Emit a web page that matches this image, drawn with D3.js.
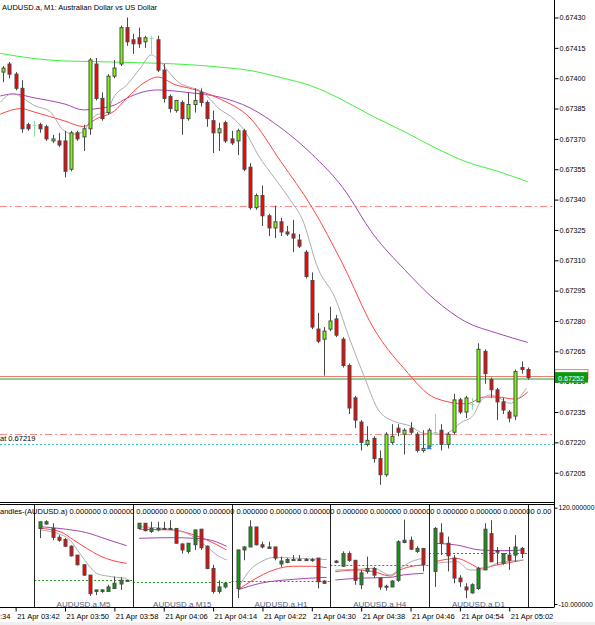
<!DOCTYPE html>
<html>
<head>
<meta charset="utf-8">
<script src="https://cdnjs.cloudflare.com/ajax/libs/d3/7.8.5/d3.min.js"></script>
<style>
  body { margin: 0; background: #fff; }
  text { font-family: "Liberation Sans", Arial, sans-serif; font-size: 7.5px; fill: #000; }
</style>
</head>
<body>
<div id="wrapper"></div>
<script>
// M1 bars, 21 Apr 03:40 .. 05:05
const openP = [0.67403,0.67407,0.67402,0.67395,0.67377,0.67377,0.67377,0.67376,0.67369,0.67369,
  0.67369,0.67355,0.67373,0.67371,0.67375,0.67407,0.67390,0.67383,0.67401,0.67407,
  0.67425,0.67419,0.67420,0.67418,0.67420,0.67419,0.67404,0.67391,0.67384,0.67388,
  0.67380,0.67387,0.67393,0.67388,0.67379,0.67373,0.67378,0.67370,0.67369,0.67374,
  0.67356,0.67336,0.67342,0.67332,0.67326,0.67329,0.67324,0.67323,0.67320,0.67314,
  0.67300,0.67276,0.67271,0.67276,0.67281,0.67271,0.67258,0.67242,0.67230,0.67219,
  0.67222,0.67212,0.67204,0.67220,0.67227,0.67224,0.67227,0.67224,0.67216,0.67218,
  0.67225,0.67226,0.67219,0.67225,0.67241,0.67235,0.67239,0.67240,0.67265,0.67251,
  0.67246,0.67240,0.67235,0.67233,0.67257,0.67256];
const highP = [0.67406,0.67408,0.67403,0.67399,0.67378,0.67379,0.67378,0.67377,0.67372,0.67373,
  0.67374,0.67374,0.67374,0.67377,0.67410,0.67410,0.67393,0.67402,0.67409,0.67426,
  0.67430,0.67422,0.67425,0.67421,0.67421,0.67421,0.67407,0.67392,0.67389,0.67389,
  0.67393,0.67395,0.67395,0.67389,0.67384,0.67378,0.67379,0.67374,0.67375,0.67375,
  0.67358,0.67343,0.67347,0.67333,0.67337,0.67331,0.67327,0.67330,0.67323,0.67315,
  0.67304,0.67284,0.67277,0.67287,0.67283,0.67272,0.67259,0.67243,0.67231,0.67228,
  0.67223,0.67216,0.67225,0.67229,0.67229,0.67227,0.67230,0.67225,0.67226,0.67227,
  0.67234,0.67229,0.67225,0.67244,0.67242,0.67243,0.67242,0.67269,0.67266,0.67252,
  0.67247,0.67242,0.67236,0.67256,0.67260,0.67257];
const lowP = [0.67398,0.67400,0.67394,0.67373,0.67374,0.67371,0.67373,0.67369,0.67368,0.67366,
  0.67351,0.67354,0.67369,0.67364,0.67372,0.67389,0.67379,0.67382,0.67400,0.67406,
  0.67416,0.67412,0.67415,0.67415,0.67412,0.67403,0.67388,0.67383,0.67383,0.67372,
  0.67379,0.67383,0.67386,0.67376,0.67363,0.67364,0.67368,0.67367,0.67362,0.67354,
  0.67335,0.67335,0.67327,0.67322,0.67321,0.67322,0.67322,0.67314,0.67316,0.67301,
  0.67276,0.67269,0.67253,0.67275,0.67272,0.67257,0.67234,0.67227,0.67216,0.67218,
  0.67210,0.67199,0.67203,0.67219,0.67223,0.67214,0.67224,0.67215,0.67215,0.67217,
  0.67224,0.67216,0.67217,0.67224,0.67234,0.67232,0.67236,0.67240,0.67249,0.67242,
  0.67231,0.67234,0.67230,0.67231,0.67254,0.67251];
const closeP = [0.67405,0.67402,0.67395,0.67375,0.67375,0.67377,0.67375,0.67370,0.67370,0.67367,
  0.67354,0.67373,0.67370,0.67375,0.67409,0.67390,0.67380,0.67401,0.67405,0.67425,
  0.67418,0.67417,0.67417,0.67420,0.67420,0.67404,0.67390,0.67385,0.67389,0.67380,
  0.67387,0.67389,0.67388,0.67380,0.67373,0.67375,0.67369,0.67368,0.67374,0.67355,
  0.67336,0.67342,0.67332,0.67326,0.67329,0.67324,0.67323,0.67321,0.67317,0.67302,
  0.67277,0.67270,0.67275,0.67280,0.67273,0.67258,0.67237,0.67231,0.67220,0.67221,
  0.67212,0.67204,0.67224,0.67223,0.67225,0.67226,0.67225,0.67216,0.67217,0.67226,
  0.67225,0.67219,0.67224,0.67241,0.67235,0.67242,0.67239,0.67266,0.67254,0.67246,
  0.67240,0.67236,0.67232,0.67255,0.67256,0.67252];

// moving averages: [bar, price]
const maFast = [[-0.5,0.673881],[1.6,0.673925],[3.2,0.673901],[4.9,0.673867],[7.6,0.673834],[9.7,0.673744],
  [11.4,0.673723],[13,0.673736],[14,0.673785],[15.1,0.673818],[16.8,0.673831],[17.8,0.673901],[20,0.673966],
  [22.2,0.674049],[24,0.674115],[25.4,0.674082],[27,0.674024],[28.6,0.673975],[30,0.673958],[32.2,0.673933],
  [34.9,0.673851],[37.6,0.673793],[39.2,0.673736],[41.3,0.673620],[44,0.673505],[46.7,0.673390],[48.4,0.673307],
  [51,0.673060],[53.8,0.672912],[55.9,0.672731],[58.4,0.672533],[61,0.672351],[63.8,0.672299],[65.9,0.672282],
  [68.1,0.672245],[71.3,0.672240],[72.4,0.672253],[74,0.672294],[76.2,0.672335],[77.3,0.672401],[78.9,0.672434],
  [80.5,0.672418],[82.1,0.672393],[84.8,0.672467]];
const maMid = [[-0.5,0.673822],[2.9,0.673850],[5,0.673833],[10,0.673788],[13,0.673761],[15,0.673798],[18,0.673838],
  [20,0.673901],[23,0.673981],[25,0.674006],[28,0.673966],[30,0.673952],[35,0.673899],[40,0.673803],[45,0.673587],
  [50,0.673363],[55,0.673082],[60,0.672765],[65,0.672563],[70,0.672419],[75,0.672390],[78,0.672424],[80,0.672424],
  [83,0.672414],[85,0.672449]];
const maSlow = [[-0.5,0.673912],[1.6,0.673922],[5,0.673903],[10,0.673872],[13,0.673843],[15,0.673849],[18,0.673867],
  [20,0.673901],[25,0.673942],[30,0.673929],[35,0.673907],[40,0.673853],[45,0.673754],[50,0.673625],[55,0.673460],
  [60,0.673227],[65,0.673055],[70,0.672904],[75,0.672795],[80,0.672740],[85,0.672694]];
const maLong = [[-0.5,0.674123],[5,0.674097],[10,0.674085],[15,0.674082],[20,0.674078],[25,0.674074],[30,0.674067],
  [35,0.674055],[40,0.674038],[45,0.674003],[50,0.673961],[55,0.673892],[60,0.673810],[65,0.673736],[70,0.673656],
  [75,0.673587],[80,0.673541],[85,0.673488]];

const priceTicks = [0.67205,0.67220,0.67235,0.67250,0.67265,0.67280,0.67295,0.67310,0.67325,0.67340,0.67355,0.67370,0.67385,0.67400,0.67415,0.67430];
const timeBars = [-6,2,10,18,26,34,42,50,58,66,74,82];
const timeLabels = ["21 Apr 03:34","21 Apr 03:42","21 Apr 03:50","21 Apr 03:58","21 Apr 04:06","21 Apr 04:14",
  "21 Apr 04:22","21 Apr 04:30","21 Apr 04:38","21 Apr 04:46","21 Apr 04:54","21 Apr 05:02"];

const bidPrice = 0.67252;
const askPrice = 0.67253;
const levelLines = [0.67337, 0.67224];
const limitPrice = 0.67219;

// sub window: multi timeframe candles, scale -10..120
const subNames = ["M5","M15","H1","H4","D1"];
const subStart = [5,21,37,53,69];
const subCandles = [
  [[92,101,79,101],[98,103,97,101],[92,99,76,80],[80,83,74,76],[77,79,67,68],[68,69,54,55],[56,56,42,43],[43,43,28,29],
   [29,29,1,4],[7,9,2,9],[7,10,5,9],[7,16,7,13],[11,27,10,18],[17,26,9,22],[22,23,21,22]],
  [[92,99,91,99],[99,99,88,89],[88,101,86,92],[90,101,88,92],[91,101,90,92],[91,103,90,92],[92,92,72,72],[71,72,58,63],
   [61,72,58,72],[70,90,63,90],[91,91,63,66],[68,69,37,38],[38,43,4,7],[7,22,4,13],[13,20,11,18]],
  [[11,63,-2,63],[63,68,49,67],[67,103,67,94],[94,94,69,70],[70,74,65,67],[67,74,65,65],[67,67,49,52],[44,54,40,48],
   [46,52,45,50],[49,56,48,50],[49,56,48,50],[50,52,48,49],[49,52,47,50],[52,52,11,20],[21,22,17,18]],
  [[48,49,45,46],[41,61,40,58],[58,61,47,49],[49,49,16,22],[16,36,10,32],[34,54,31,38],[38,40,25,29],[25,26,9,13],
   [14,16,8,13],[13,22,13,21],[22,76,20,74],[73,104,72,76],[76,81,63,64],[61,68,59,65],[65,65,34,43]],
  [[34,94,13,92],[86,99,56,72],[72,81,34,55],[52,56,18,25],[25,29,13,20],[13,18,-2,9],[5,18,4,16],[11,40,9,38],
   [36,99,36,91],[85,103,47,47],[62,67,43,60],[45,58,43,58],[56,67,36,49],[56,83,47,67],[65,67,52,58]]
];
const subCurrent = [22.4,20.2,21.5,42.7,58.4];
const subFast = [
  [[6,89.9],[8.7,85.4],[10.8,76.4],[12.4,58.4],[13.8,42.7],[15.1,31.4],[16.8,27.8],[18.4,26],[20,24.6]],
  [[22,94.4],[27.6,89.9],[29.7,85.4],[33,67.4],[34.6,56.2],[36.2,49.4]],
  [[38,11],[40,36],[42,48],[44,53],[47,52],[50,51],[52.4,50]],
  [[53.8,35.9],[57.3,36.8],[60,38.2],[62.7,29.2],[64.3,38.2],[66.5,48.5],[68.1,51.6]],
  [[70,44.9],[73.5,47.2],[75.6,35.9],[77.3,35.9],[80,44.9],[84.3,49.4]]
];
const subMid = [
  [[6,92.1],[9.2,87.7],[11.4,76.4],[13.5,65.2],[15.7,54.8],[17.8,48.5],[20,44.9]],
  [[22,90.8],[27.6,89.9],[29.7,86.3],[33,76.4],[36.2,62.9]],
  [[38,9],[40.5,22.4],[43.8,35.9],[47,41],[50,41],[52.4,39]],
  [[53.8,33.7],[57.3,35.9],[60,33.7],[62.7,27.8],[64.3,35.9],[66.5,41.3],[68.1,42.7]],
  [[70,47.2],[73.5,51.6],[75.6,44.9],[77.3,38.2],[80,42.7],[84.3,49.4]]
];
const subSlow = [
  [[6,94.4],[10.3,90.8],[13.5,86.3],[16.8,77.3],[20,68.7]],
  [[22,78.7],[27.6,79.6],[30.8,78.7],[33,77.3],[36.2,68]],
  [[38,9],[41.6,17.9],[47,23.3],[52.4,26]],
  [[53.8,22.4],[57.3,24.7],[62.7,26],[64.8,29.2],[68.1,31.4]],
  [[70,71.9],[73.5,69.6],[77.3,62.9],[81,62],[84.3,62.9]]
];

function drawChart() {
  const dims = { width: 595, height: 625, plotRight: 554, mainBottom: 502, subTop: 504, subBottom: 607.5 };

  const svg = d3.select("#wrapper").append("svg")
    .attr("width", dims.width).attr("height", dims.height);

  const defs = svg.append("defs");
  defs.append("clipPath").attr("id", "clipMain").append("rect")
    .attr("x", 0).attr("y", 0).attr("width", dims.plotRight).attr("height", dims.mainBottom);
  defs.append("clipPath").attr("id", "clipSub").append("rect")
    .attr("x", 0).attr("y", dims.subTop).attr("width", dims.plotRight).attr("height", dims.subBottom - dims.subTop);

  // scales
  const xScale = d3.scaleLinear().domain([0, 85]).range([3.3, 527.75]);
  const yScale = d3.scaleLinear().domain([0.6719053, 0.6743865]).range([dims.mainBottom, 0]);
  const ySub = d3.scaleLinear().domain([-10, 120]).range([604, 507.7]);

  const bull = "#7cfc00", bear = "#ff0000", doji = "#8fdcaa", edge = "#4a4a4a";

  const main = svg.append("g").attr("clip-path", "url(#clipMain)");

  // horizontal levels
  levelLines.forEach(p => {
    main.append("line").attr("x1", 0).attr("x2", dims.plotRight)
      .attr("y1", Math.round(yScale(p)) + 0.5).attr("y2", Math.round(yScale(p)) + 0.5)
      .attr("stroke", "#ff8a8a").attr("stroke-dasharray", "7,3,2,3");
  });
  main.append("line").attr("x1", 0).attr("x2", dims.plotRight)
    .attr("y1", Math.round(yScale(limitPrice)) + 0.5).attr("y2", Math.round(yScale(limitPrice)) + 0.5)
    .attr("stroke", "#3cc3c3").attr("stroke-dasharray", "2,2");
  svg.append("text").attr("x", 0).attr("y", yScale(limitPrice) - 3)
    .text("at " + limitPrice.toFixed(5));

  main.append("line").attr("x1", 0).attr("x2", dims.plotRight)
    .attr("y1", Math.round(yScale(askPrice)) + 0.5).attr("y2", Math.round(yScale(askPrice)) + 0.5)
    .attr("stroke", "#f07878");
  main.append("line").attr("x1", 0).attr("x2", dims.plotRight)
    .attr("y1", Math.round(yScale(bidPrice)) + 1).attr("y2", Math.round(yScale(bidPrice)) + 1)
    .attr("stroke", "#92d092").attr("stroke-width", 2);

  // moving averages
  const maLine = d3.line().x(d => xScale(d[0])).y(d => yScale(d[1])).curve(d3.curveMonotoneX);
  [[maLong, "#3ff03f"], [maSlow, "#a446b4"], [maMid, "#ff4545"], [maFast, "#acacac"]].forEach(([pts, col]) => {
    main.append("path").datum(pts).attr("d", maLine)
      .attr("fill", "none").attr("stroke", col).attr("stroke-width", 1);
  });

  // candles
  const dataset = openP.map((o, i) => ({ i, o, h: highP[i], l: lowP[i], c: closeP[i] }));
  const candles = main.append("g").selectAll("g").data(dataset).join("g");
  candles.append("line")
    .attr("x1", d => Math.round(xScale(d.i)) + 0.5).attr("x2", d => Math.round(xScale(d.i)) + 0.5)
    .attr("y1", d => yScale(d.h)).attr("y2", d => yScale(d.l))
    .attr("stroke", d => d.o === d.c ? doji : edge);
  candles.filter(d => d.o !== d.c).append("rect")
    .attr("x", d => Math.round(xScale(d.i)) - 1)
    .attr("y", d => yScale(Math.max(d.o, d.c)))
    .attr("width", 3)
    .attr("height", d => Math.max(1, Math.abs(yScale(d.o) - yScale(d.c))))
    .attr("fill", d => d.c > d.o ? bull : bear)
    .attr("stroke", edge).attr("stroke-width", 1);
  candles.filter(d => d.o === d.c).append("line")
    .attr("x1", d => Math.round(xScale(d.i)) - 1.5).attr("x2", d => Math.round(xScale(d.i)) + 2.5)
    .attr("y1", d => Math.round(yScale(d.o)) + 0.5).attr("y2", d => Math.round(yScale(d.o)) + 0.5)
    .attr("stroke", doji);

  // trade marker
  main.append("path").attr("d", d3.symbol(d3.symbolTriangle, 14)())
    .attr("transform", `translate(${xScale(69)},${yScale(0.672174)})`)
    .attr("fill", "#2f7fd8");

  // title
  svg.append("text").attr("x", 2).attr("y", 9.5)
    .text("AUDUSD.a, M1:  Australian Dollar vs US Dollar");

  // price axis
  const yAxis = svg.append("g").attr("transform", `translate(${dims.plotRight + 0.5},0)`)
    .call(d3.axisRight(yScale).tickValues(priceTicks).tickSize(4).tickPadding(1).tickFormat(d3.format(".5f")));
  yAxis.select(".domain").remove();
  yAxis.selectAll("line").attr("stroke", "#000");
  yAxis.selectAll("text").style("font-size", "7.2px").attr("fill", "#000");

  // price labels
  svg.append("rect").attr("x", dims.plotRight + 1).attr("y", yScale(askPrice) - 6)
    .attr("width", 33).attr("height", 10).attr("fill", "#fff").attr("stroke", "#f07878");
  svg.append("rect").attr("x", dims.plotRight + 1).attr("y", yScale(bidPrice) - 5.5)
    .attr("width", 33).attr("height", 10.5).attr("fill", "#0b9a0b");
  svg.append("text").attr("x", dims.plotRight + 4).attr("y", yScale(bidPrice) + 3)
    .style("fill", "#fff").style("font-size", "7.2px").text(bidPrice.toFixed(5));

  // sub window
  const sub = svg.append("g").attr("clip-path", "url(#clipSub)");
  const subLine = d3.line().x(d => xScale(d[0])).y(d => ySub(d[1])).curve(d3.curveMonotoneX);
  subNames.forEach((name, k) => {
    const s = subStart[k];
    sub.append("line")
      .attr("x1", xScale(s)).attr("x2", xScale(s + 16))
      .attr("y1", Math.round(ySub(subCurrent[k])) + 0.5).attr("y2", Math.round(ySub(subCurrent[k])) + 0.5)
      .attr("stroke", "#1f9a1f").attr("stroke-dasharray", "2,2");
    [[subSlow[k], "#a446b4"], [subMid[k], "#ff4545"], [subFast[k], "#acacac"]].forEach(([pts, col]) => {
      sub.append("path").datum(pts).attr("d", subLine)
        .attr("fill", "none").attr("stroke", col);
    });
    const cs = subCandles[k].map((d, j) => ({ i: s + 1 + j, o: d[0], h: d[1], l: d[2], c: d[3] }));
    const g = sub.append("g").selectAll("g").data(cs).join("g");
    g.append("line")
      .attr("x1", d => Math.round(xScale(d.i)) + 0.5).attr("x2", d => Math.round(xScale(d.i)) + 0.5)
      .attr("y1", d => ySub(d.h)).attr("y2", d => ySub(d.l)).attr("stroke", edge);
    g.append("rect")
      .attr("x", d => Math.round(xScale(d.i)) - 1)
      .attr("y", d => ySub(Math.max(d.o, d.c)))
      .attr("width", 3)
      .attr("height", d => Math.max(1, Math.abs(ySub(d.o) - ySub(d.c))))
      .attr("fill", d => d.c > d.o ? "#0f9a0f" : d.c < d.o ? bear : "#000")
      .attr("stroke", edge);
    svg.append("text").attr("x", xScale(s + 8)).attr("y", 606.5)
      .attr("text-anchor", "middle").style("fill", "#53607f").style("font-size", "8px")
      .text("AUDUSD.a," + name);
  });
  // separators
  subStart.concat([85]).forEach(s => {
    svg.append("line").attr("x1", Math.round(xScale(s)) + 0.5).attr("x2", Math.round(xScale(s)) + 0.5)
      .attr("y1", dims.subTop).attr("y2", dims.subBottom).attr("stroke", "#222");
  });

  // indicator header, trimmed to the window width
  const header = svg.append("text").attr("x", 0).attr("y", 514);
  let headerText = "andles-(AUDUSD.a)" + d3.range(20).map(() => " 0.000000").join("");
  header.text(headerText);
  while (header.node().getComputedTextLength() > dims.plotRight - 1 && headerText.length > 1) {
    headerText = headerText.slice(0, -1);
    header.text(headerText);
  }

  // sub axis
  const subAxis = svg.append("g").attr("transform", `translate(${dims.plotRight + 0.5},0)`)
    .call(d3.axisRight(ySub).tickValues([-10, 120]).tickSize(3).tickPadding(1).tickFormat(d => d.toFixed(6)));
  subAxis.select(".domain").remove();
  subAxis.selectAll("text").style("font-size", "6.8px");

  // frame
  svg.append("line").attr("x1", 0).attr("x2", dims.plotRight).attr("y1", 502.5).attr("y2", 502.5).attr("stroke", "#000");
  svg.append("line").attr("x1", 0).attr("x2", dims.plotRight).attr("y1", 504.5).attr("y2", 504.5).attr("stroke", "#000");
  svg.append("line").attr("x1", 0).attr("x2", dims.plotRight).attr("y1", dims.subBottom).attr("y2", dims.subBottom).attr("stroke", "#000");
  svg.append("line").attr("x1", dims.plotRight + 0.5).attr("x2", dims.plotRight + 0.5).attr("y1", 0).attr("y2", dims.subBottom).attr("stroke", "#000");

  // time axis
  const xAxis = svg.append("g").attr("transform", `translate(0,${dims.subBottom})`)
    .call(d3.axisBottom(xScale).tickValues(timeBars).tickSize(4).tickPadding(2).tickFormat((d, i) => timeLabels[i]));
  xAxis.select(".domain").remove();
  xAxis.selectAll("text").attr("text-anchor", "start").attr("dx", 1).style("font-size", "7.5px");

  svg.append("rect").attr("x", 0).attr("y", 622).attr("width", dims.width).attr("height", 3).attr("fill", "#efefef");
}

drawChart();
</script>
</body>
</html>
